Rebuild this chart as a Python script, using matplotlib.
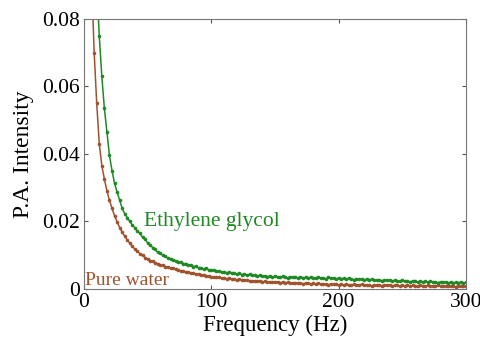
import numpy as np
import matplotlib
matplotlib.use("Agg")
import matplotlib.pyplot as plt

plt.rcParams['font.family'] = ['Liberation Serif', 'DejaVu Serif']

# Frequency grid (Hz)
freq = np.arange(2, 301, 2)

# Pure water P.A. intensity
pure_water = [
    0.2700, 0.1350, 0.0920, 0.0700, 0.0550, 0.0430, 0.0365, 0.0325, 0.0290, 0.0262,
    0.0238, 0.0216, 0.0198, 0.0181, 0.0167, 0.0155, 0.0144, 0.0134, 0.0125, 0.0117,
    0.0111, 0.0103, 0.0099, 0.0092, 0.0088, 0.0083, 0.0081, 0.0076, 0.0074, 0.0070,
    0.0069, 0.0065, 0.0064, 0.0061, 0.0060, 0.0057, 0.0056, 0.0052, 0.0052, 0.0049,
    0.0049, 0.0046, 0.0046, 0.0043, 0.0043, 0.0040, 0.0041, 0.0038, 0.0037, 0.0035,
    0.0035, 0.0033, 0.0033, 0.0031, 0.0032, 0.0029, 0.0030, 0.0028, 0.0028, 0.0026,
    0.0027, 0.0025, 0.0024, 0.0025, 0.0023, 0.0022, 0.0023, 0.0021, 0.0022, 0.0020,
    0.0021, 0.0019, 0.0020, 0.0018, 0.0019, 0.0019, 0.0017, 0.0019, 0.0017, 0.0018,
    0.0016, 0.0017, 0.0015, 0.0017, 0.0016, 0.0014, 0.0016, 0.0015, 0.0013, 0.0015,
    0.0014, 0.0015, 0.0012, 0.0014, 0.0013, 0.0011, 0.0014, 0.0012, 0.0013, 0.0011,
    0.0012, 0.0010, 0.0013, 0.0011, 0.0009, 0.0012, 0.0011, 0.0010, 0.0012, 0.0009,
    0.0010, 0.0011, 0.0008, 0.0010, 0.0011, 0.0009, 0.0008, 0.0010, 0.0009, 0.0011,
    0.0008, 0.0009, 0.0010, 0.0007, 0.0009, 0.0008, 0.0010, 0.0007, 0.0009, 0.0008,
    0.0006, 0.0009, 0.0008, 0.0007, 0.0009, 0.0006, 0.0008, 0.0007, 0.0009, 0.0006,
    0.0008, 0.0007, 0.0006, 0.0008, 0.0007, 0.0005, 0.0008, 0.0006, 0.0007, 0.0006,
]

# Ethylene glycol P.A. intensity
ethylene_glycol = [
    0.4500, 0.2300, 0.1550, 0.1150, 0.0910, 0.0750, 0.0630, 0.0535, 0.0465, 0.0395,
    0.0350, 0.0312, 0.0286, 0.0262, 0.0238, 0.0222, 0.0210, 0.0199, 0.0188, 0.0180,
    0.0170, 0.0164, 0.0152, 0.0146, 0.0135, 0.0130, 0.0121, 0.0116, 0.0107, 0.0104,
    0.0098, 0.0096, 0.0090, 0.0089, 0.0084, 0.0083, 0.0079, 0.0078, 0.0074, 0.0074,
    0.0070, 0.0070, 0.0065, 0.0066, 0.0061, 0.0062, 0.0058, 0.0060, 0.0055, 0.0056,
    0.0054, 0.0051, 0.0053, 0.0049, 0.0050, 0.0047, 0.0048, 0.0045, 0.0047, 0.0043,
    0.0045, 0.0041, 0.0043, 0.0040, 0.0042, 0.0039, 0.0040, 0.0037, 0.0039, 0.0036,
    0.0038, 0.0035, 0.0037, 0.0034, 0.0036, 0.0035, 0.0033, 0.0036, 0.0034, 0.0032,
    0.0035, 0.0033, 0.0034, 0.0031, 0.0035, 0.0032, 0.0033, 0.0030, 0.0034, 0.0031,
    0.0032, 0.0034, 0.0030, 0.0032, 0.0029, 0.0033, 0.0030, 0.0031, 0.0028, 0.0031,
    0.0029, 0.0030, 0.0027, 0.0030, 0.0028, 0.0026, 0.0029, 0.0027, 0.0028, 0.0025,
    0.0028, 0.0026, 0.0027, 0.0024, 0.0026, 0.0025, 0.0023, 0.0026, 0.0024, 0.0025,
    0.0022, 0.0024, 0.0023, 0.0021, 0.0024, 0.0022, 0.0023, 0.0020, 0.0022, 0.0021,
    0.0019, 0.0022, 0.0020, 0.0021, 0.0018, 0.0021, 0.0019, 0.0020, 0.0017, 0.0020,
    0.0018, 0.0019, 0.0017, 0.0019, 0.0016, 0.0018, 0.0017, 0.0019, 0.0016, 0.0018,
]

brown = '#A0522D'
green = '#1F8A24'

fig = plt.figure(figsize=(4.81, 3.44), dpi=100)
ax = fig.add_axes([0.1746, 0.1613, 0.7942, 0.7835])

ax.plot(freq, pure_water, '-', color=brown, lw=1.1, marker='o', ms=2.6,
        markeredgewidth=0)
ax.plot(freq, ethylene_glycol, '-', color=green, lw=1.1, marker='o', ms=2.6,
        markeredgewidth=0)

ax.set_xlim(0, 300)
ax.set_ylim(0, 0.08)
ax.set_xticks([0, 100, 200, 300])
ax.set_xticklabels(['0', '100', '200', '300'])
ax.set_yticks([0, 0.02, 0.04, 0.06, 0.08])
ax.set_yticklabels(['0', '0.02', '0.04', '0.06', '0.08'])
ax.tick_params(direction='in', top=True, right=True, length=3, width=0.8,
               labelsize=15.5, colors='#555555', labelcolor='black', pad=3)
for s in ax.spines.values():
    s.set_color('#777777')
    s.set_linewidth(0.8)

ax.set_xlabel('Frequency (Hz)', fontsize=16.5, labelpad=2)
ax.set_ylabel('P.A. Intensity', fontsize=17, labelpad=6)

ax.text(47, 0.0198, 'Ethylene glycol', color=green, fontsize=15.5, va='center',
        ha='left')
ax.text(0.5, 0.0024, 'Pure water', color=brown, fontsize=14, va='center',
        ha='left')

fig.savefig('out.png', dpi=100)
